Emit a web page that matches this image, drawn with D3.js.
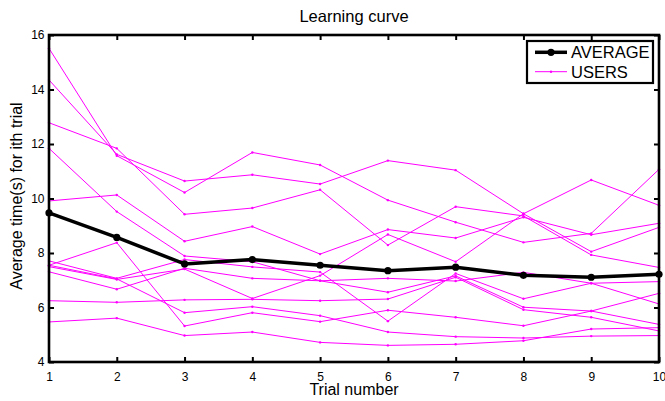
<!DOCTYPE html>
<html>
<head>
<meta charset="utf-8">
<script src="https://cdn.jsdelivr.net/npm/d3@7"></script>
<style>
body{margin:0;background:#fff;}
svg{display:block;font-family:"Liberation Sans",Arial,Helvetica,sans-serif;}
</style>
</head>
<body>
<svg id="chart" width="665" height="401"></svg>
<script>
// data
var trials = [1,2,3,4,5,6,7,8,9,10];
var yTicks = [4,6,8,10,12,14,16];
var average = [9.47,8.57,7.60,7.76,7.55,7.35,7.48,7.18,7.11,7.22];
var userA = [15.51,11.57,10.22,11.69,11.23,9.94,9.13,8.39,8.72,11.07];
var userB = [14.35,11.62,10.64,10.87,10.53,11.39,11.04,9.44,8.05,8.94];
var userC = [12.78,11.84,9.42,9.65,10.32,8.29,9.70,9.36,7.93,7.47];
var userD = [11.84,9.52,7.89,7.68,6.98,7.07,6.97,7.29,6.89,6.95];
var userE = [9.91,10.13,8.43,8.97,7.96,8.86,8.55,9.31,8.67,9.09];
var userF = [7.71,7.07,7.76,7.49,7.30,5.50,7.25,6.32,6.89,6.13];
var userG = [7.55,8.38,5.32,5.81,5.48,5.90,5.64,5.33,5.87,5.38];
var userH = [7.50,7.03,7.41,6.33,7.17,8.68,7.68,9.44,10.68,9.75];
var userI = [7.31,6.67,7.44,7.07,6.98,6.56,7.16,6.01,5.87,6.52];
var userJ = [6.25,6.19,6.28,6.30,6.25,6.31,7.11,5.92,5.64,5.14];
var userK = [5.47,5.61,4.97,5.10,4.72,4.61,4.65,4.78,5.21,5.26];
var userL = [7.55,7.05,5.81,6.03,5.70,5.10,4.93,4.88,4.95,4.97];
var users = [userA,userB,userC,userD,userE,userF,userG,userH,userI,userJ,userK,userL];
var legendNames = ["AVERAGE","USERS"];
var titleText = "Learning curve";
var xTitle = "Trial number";
var yTitle = "Average time(s) for ith trial";

var svg = d3.select("#chart");
// plot box (window.top is taken, so own names)
var pLeft = 49, pRight = 659, pTop = 35, pBottom = 362;
var x = d3.scaleLinear().domain([1,10]).range([pLeft,pRight]);
var y = d3.scaleLinear().domain([4,16]).range([pBottom,pTop]);

svg.append("rect").attr("width",665).attr("height",401).attr("fill","#fff");

var line = d3.line()
	.x(function(d,i){ return x(trials[i]); })
	.y(function(d){ return y(d); });

// users
var g_users = svg.append("g");
g_users.selectAll("path")
	.data(users)
	.enter()
	.append("path")
	.attr("d",line)
	.attr("fill","none")
	.attr("stroke","#ff00ff")
	.attr("stroke-width",1);
users.forEach(u=>{
	g_users.append("g").selectAll("circle")
		.data(u)
		.enter()
		.append("circle")
		.attr("cx",(d,i)=>x(trials[i]))
		.attr("cy",d=>y(d))
		.attr("r",1.2)
		.attr("fill","#ff00ff");
});

// average
svg.append("path")
	.datum(average)
	.attr("d",line)
	.attr("fill","none")
	.attr("stroke","#000")
	.attr("stroke-width",3.5)
	.attr("stroke-linejoin","round");
svg.append("g").selectAll("circle")
	.data(average)
	.enter()
	.append("circle")
	.attr("cx",(d,i)=>x(trials[i]))
	.attr("cy",d=>y(d))
	.attr("r",3.6)
	.attr("fill","#000");

// axes, ticks pointing inward on all four sides
var gx = svg.append("g").attr("transform","translate(0,"+pBottom+")")
	.call(d3.axisBottom(x).tickValues(trials).tickSizeInner(-5).tickSizeOuter(0).tickFormat(d3.format("d")));
gx.selectAll("text").attr("y",18.5).attr("dy",0);
var gxt = svg.append("g").attr("transform","translate(0,"+pTop+")")
	.call(d3.axisTop(x).tickValues(trials).tickSizeInner(-5).tickSizeOuter(0).tickFormat(""));
var gy = svg.append("g").attr("transform","translate("+pLeft+",0)")
	.call(d3.axisLeft(y).tickValues(yTicks).tickSizeInner(-5).tickSizeOuter(0));
gy.selectAll("text").attr("x",-4.5);
var gyr = svg.append("g").attr("transform","translate("+pRight+",0)")
	.call(d3.axisRight(y).tickValues(yTicks).tickSizeInner(-5).tickSizeOuter(0).tickFormat(""));
[gx,gxt,gy,gyr].forEach(g=>{
	g.select(".domain").remove();
	g.selectAll("line").attr("stroke","#000").attr("stroke-width",2);
	g.selectAll("text").attr("fill","#000").style("font-size","12px").style("font-family","Liberation Sans, Arial, sans-serif");
});

svg.append("rect")
	.attr("x",pLeft).attr("y",pTop)
	.attr("width",pRight-pLeft).attr("height",pBottom-pTop)
	.attr("fill","none")
	.attr("stroke","#000")
	.attr("stroke-width",2.6);

// titles
svg.append("text")
	.attr("x",(pLeft+pRight)/2).attr("y",21.7)
	.attr("text-anchor","middle")
	.style("font-size","16.5px")
	.text(titleText);
svg.append("text")
	.attr("x",(pLeft+pRight)/2).attr("y",395)
	.attr("text-anchor","middle")
	.style("font-size","16px")
	.text(xTitle);
svg.append("text")
	.attr("transform","translate(21.5,196) rotate(-90)")
	.attr("text-anchor","middle")
	.style("font-size","16px")
	.text(yTitle);

// legend
var lg = svg.append("g");
lg.append("rect")
	.attr("x",527).attr("y",41).attr("width",126).attr("height",42)
	.attr("fill","#fff").attr("stroke","#000").attr("stroke-width",2.2);
lg.append("line").attr("x1",535).attr("x2",567).attr("y1",52.3).attr("y2",52.3)
	.attr("stroke","#000").attr("stroke-width",3.5);
lg.append("circle").attr("cx",551).attr("cy",52.3).attr("r",3.6).attr("fill","#000");
lg.append("line").attr("x1",535).attr("x2",567).attr("y1",71.7).attr("y2",71.7)
	.attr("stroke","#ff00ff").attr("stroke-width",1);
lg.append("circle").attr("cx",551).attr("cy",71.7).attr("r",1.2).attr("fill","#ff00ff");
lg.selectAll("text")
	.data(legendNames)
	.enter()
	.append("text")
	.attr("x",571)
	.attr("y",(d,i)=>i==0?57.8:78.3)
	.style("font-size","16.5px")
	.text(d=>d);
</script>
</body>
</html>
